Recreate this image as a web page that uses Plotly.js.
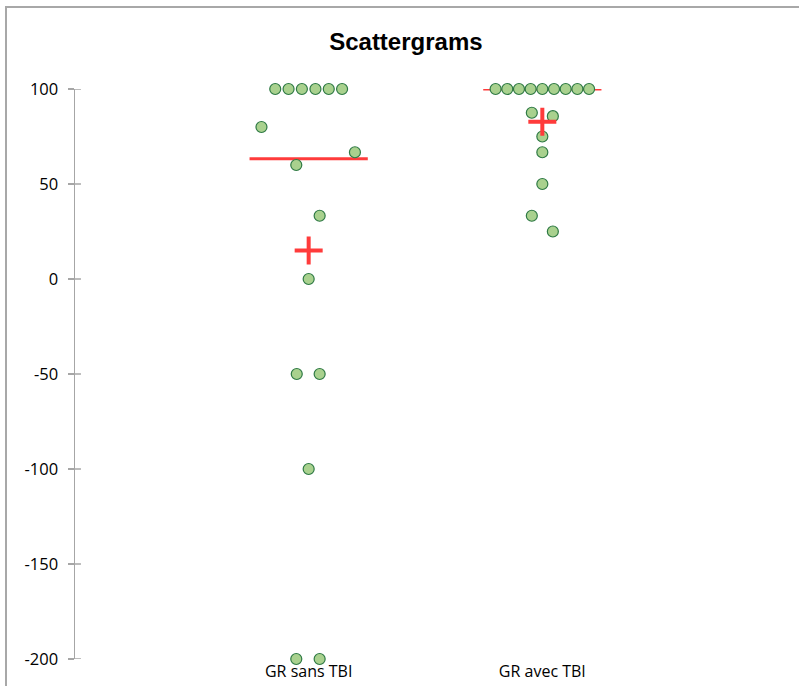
<!DOCTYPE html>
<html>
<head>
<meta charset="utf-8">
<script src="https://cdn.plot.ly/plotly-3.0.1.min.js"></script>
<style>
html,body{margin:0;padding:0;background:#fff;}
#wrap{position:relative;width:799px;height:686px;overflow:hidden;}
#chart{position:absolute;left:0;top:0;width:799px;height:686px;}
#frame{position:absolute;left:5px;top:6px;width:900px;height:900px;border-left:2px solid #a8a8a8;border-top:2px solid #a8a8a8;pointer-events:none;}
</style>
</head>
<body>
<div id="wrap"><div id="chart"></div><div id="frame"></div></div>
<script>
// ---- data ----
var categories = ["GR sans TBI", "GR avec TBI"];
var sansValues = [100, 100, 100, 100, 100, 100, 80, 66.7, 60, 33.3, 0, -50, -50, -100, -200, -200];
var sansJitter = [-0.143, -0.086, -0.029, 0.029, 0.086, 0.143, -0.202, 0.198, -0.053, 0.047, 0, -0.051, 0.047, 0, -0.053, 0.047];
var avecValues = [100, 100, 100, 100, 100, 100, 100, 100, 100, 87.5, 85.7, 75, 66.7, 50, 33.3, 25];
var avecJitter = [-0.2, -0.15, -0.1, -0.05, 0, 0.05, 0.1, 0.15, 0.2, -0.045, 0.045, 0, 0, 0, -0.045, 0.045];
var yTicks = [-200, -150, -100, -50, 0, 50, 100];

function median(a){var s=a.slice().sort(function(p,q){return p-q;});var n=s.length;return n%2?s[(n-1)/2]:(s[n/2-1]+s[n/2])/2;}
function mean(a){var t=0;a.forEach(function(v){t+=v;});return t/a.length;}

var groups = [sansValues, avecValues];
var jitters = [sansJitter, avecJitter];
var traces = [];
var halfW = 0.253;
groups.forEach(function(vals, gi){
  var c = gi + 1;
  var md = median(vals);
  traces.push({type:'scatter', mode:'lines', x:[c-halfW, c+halfW], y:[md, md],
    line:{color:'#ff3b3b', width:3}, hoverinfo:'skip', showlegend:false, cliponaxis:false});
});
groups.forEach(function(vals, gi){
  var c = gi + 1;
  traces.push({type:'scatter', mode:'markers',
    x: vals.map(function(v,i){return c + jitters[gi][i];}), y: vals,
    marker:{size:11, color:'#a9d18e', line:{color:'#2f7a45', width:1.2}},
    showlegend:false, cliponaxis:false});
});
groups.forEach(function(vals, gi){
  var c = gi + 1;
  traces.push({type:'scatter', mode:'markers', x:[c], y:[mean(vals)],
    marker:{symbol:'cross-thin', size:20, line:{color:'#ff3b3b', width:4}},
    showlegend:false, cliponaxis:false});
});

var shapes = yTicks.map(function(t){
  return {type:'line', xref:'paper', yref:'y', x0:0, x1:0.0085, y0:t, y1:t,
    line:{color:'#a6a6a6', width:1.5}};
});

var layout = {
  width:799, height:686,
  margin:{l:75, r:23, t:88.7, b:27.3, pad:0},
  paper_bgcolor:'#ffffff', plot_bgcolor:'#ffffff',
  title:{text:'<b>Scattergrams</b>', font:{family:'Liberation Sans, Arial', size:24, color:'#000'},
    x:0.508, xanchor:'center', y:0.94, yanchor:'middle', yref:'container'},
  xaxis:{range:[0,3], tickvals:[1,2], ticktext:categories, showgrid:false, zeroline:false,
    showline:false, ticks:'', tickfont:{family:'Open Sans, sans-serif', size:16, color:'#000'},
    ticklabelstandoff:1, fixedrange:true},
  yaxis:{range:[-200,100], tickvals:yTicks, ticktext:yTicks.map(String), showgrid:false, zeroline:false,
    showline:true, linecolor:'#a6a6a6', linewidth:1.5, ticks:'outside', ticklen:6, tickwidth:1.5,
    tickcolor:'#a6a6a6', tickfont:{family:'Open Sans, sans-serif', size:16.5, color:'#000'},
    ticklabelstandoff:6, fixedrange:true},
  shapes:shapes,
  showlegend:false
};
Plotly.newPlot('chart', traces, layout, {staticPlot:true});
</script>
</body>
</html>
